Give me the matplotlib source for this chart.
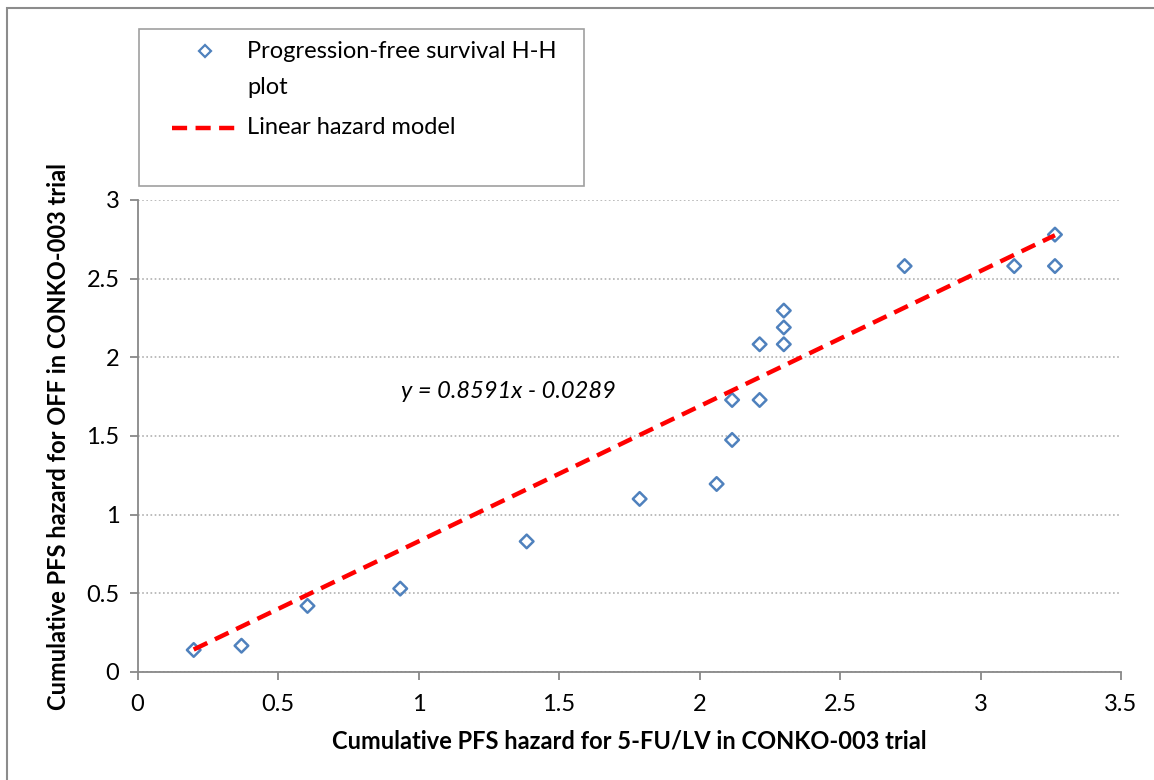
import matplotlib
matplotlib.use("Agg")
import matplotlib.pyplot as plt
from matplotlib.lines import Line2D
from matplotlib.patches import Rectangle
import numpy as np

# ---------------------------------------------------------------------------
# Data
# ---------------------------------------------------------------------------

hazard_5fu = [0.20, 0.37, 0.605, 0.935, 1.385, 1.787, 2.061, 2.116, 2.116,
              2.214, 2.214, 2.30, 2.30, 2.30, 2.73, 3.12, 3.265, 3.265]
hazard_off = [0.14, 0.167, 0.42, 0.53, 0.83, 1.10, 1.195, 1.475, 1.729,
              1.729, 2.083, 2.083, 2.19, 2.297, 2.58, 2.58, 2.58, 2.78]

slope = 0.8591
intercept = -0.0289

x_ticks = [0, 0.5, 1, 1.5, 2, 2.5, 3, 3.5]
y_ticks = [0, 0.5, 1, 1.5, 2, 2.5, 3]

legend_labels = ["Progression-free survival H-H", "plot", "Linear hazard model"]

FONT = "Lato"
BLUE = "#4F81BD"
RED = "#FF0000"
GREY = "#888888"

W, H = 1154, 780
plt.rcParams["font.family"] = [FONT, "DejaVu Sans"]

fig = plt.figure(figsize=(W / 100, H / 100), dpi=100)


def fx(px):
    return px / W


def fy(py):
    return (H - py) / H


# outer chart border (only top/left edges are visible in the crop)
fig.patches.append(Rectangle((fx(7), -0.1), 1.2, fy(8) + 0.1,
                             transform=fig.transFigure, fill=False,
                             edgecolor="#8c8c8c", linewidth=1.5))

ax = fig.add_axes([fx(137.5), fy(672), fx(1121 - 137.5), (672 - 200) / H])

ax.scatter(hazard_5fu, hazard_off, marker="D", s=48, facecolors="none",
           edgecolors=BLUE, linewidths=1.8, zorder=3)

x_fit = np.array([min(hazard_5fu), max(hazard_5fu)])
ax.plot(x_fit, slope * x_fit + intercept, color=RED, linewidth=3.2,
        dashes=(3.4, 1.9), zorder=4)

ax.text(0.937, 1.78, f"y = {slope}x - {abs(intercept)}", style="italic",
        fontsize=17, ha="left", va="center")

ax.set_xlim(0, 3.5)
ax.set_ylim(0, 3)
ax.set_xticks(x_ticks)
ax.set_yticks(y_ticks)
ax.set_xticklabels([f"{t:g}" for t in x_ticks])
ax.set_yticklabels([f"{t:g}" for t in y_ticks])
ax.tick_params(axis="both", labelsize=17, color=GREY, length=6, width=1.3,
               direction="out", pad=10)
ax.tick_params(axis="y", pad=7)
for side in ("top", "right"):
    ax.spines[side].set_visible(False)
for side in ("left", "bottom"):
    ax.spines[side].set_color(GREY)
    ax.spines[side].set_linewidth(1.3)
ax.grid(True, axis="y", color="#b0b0b0", linestyle=(0, (1, 1.5)), linewidth=1.2)
ax.set_axisbelow(True)

ax.set_xlabel("Cumulative PFS hazard for 5-FU/LV in CONKO-003 trial",
              fontsize=17, fontweight="bold", labelpad=10)
ax.set_ylabel("Cumulative PFS hazard for OFF in CONKO-003 trial",
              fontsize=17, fontweight="bold", labelpad=12)

# legend box, drawn by hand to keep the Excel-style layout
fig.patches.append(Rectangle((fx(139), fy(186)), fx(584 - 139), (186 - 29) / H,
                             transform=fig.transFigure, fill=False,
                             edgecolor="#a0a0a0", linewidth=1.2))
fig.add_artist(Line2D([fx(205)], [fy(51)], marker="D", linestyle="none",
                      markerfacecolor="none", markeredgecolor=BLUE,
                      markeredgewidth=1.6, markersize=6.5,
                      transform=fig.transFigure))
fig.add_artist(Line2D([fx(172), fx(236)], [fy(128), fy(128)], color=RED,
                      linewidth=3.2, dashes=(3.4, 1.9),
                      transform=fig.transFigure))
for label, py in zip(legend_labels, [51, 88, 128]):
    fig.text(fx(247), fy(py), label, fontsize=17, ha="left", va="center")

fig.savefig("out.png", dpi=100)
